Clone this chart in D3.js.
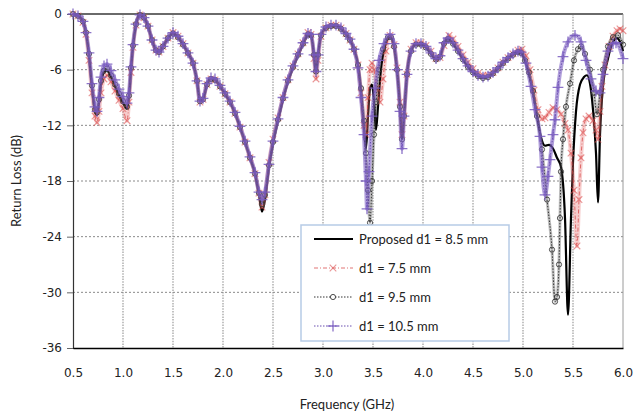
<!DOCTYPE html>
<html><head><meta charset="utf-8">
<script src="https://cdn.jsdelivr.net/npm/d3@7"></script>
<style>
html,body{margin:0;padding:0;background:#fff;}
svg{display:block;}
</style></head>
<body>
<svg id="chart" width="642" height="412"></svg>
<script>
// ---- data (frequency GHz, return loss dB) ----
const xTicks = [0.5,1.0,1.5,2.0,2.5,3.0,3.5,4.0,4.5,5.0,5.5,6.0];
const yTicks = [0,-6,-12,-18,-24,-30,-36];
const seriesNames = ["Proposed d1 = 8.5 mm","d1 = 7.5 mm","d1 = 9.5 mm","d1 = 10.5 mm"];

const proposed = [[0.50,0],[0.55,-0.2],[0.60,-0.8],[0.63,-2],[0.66,-4.5],[0.69,-8],[0.72,-10.5],[0.74,-10.9],[0.76,-9.5],[0.78,-7.5],[0.81,-6.3],[0.84,-6.1],[0.88,-6.8],[0.92,-7.8],[0.96,-8.8],[1.00,-9.6],[1.04,-10.2],[1.06,-9],[1.08,-6],[1.10,-3.5],[1.13,-1.2],[1.17,-0.1],[1.21,-0.4],[1.25,-1.3],[1.29,-2.8],[1.33,-3.9],[1.36,-4.1],[1.40,-3.5],[1.45,-2.6],[1.50,-2.1],[1.55,-2.5],[1.60,-3.3],[1.65,-4.2],[1.70,-5.3],[1.74,-7.2],[1.77,-9.4],[1.80,-9.2],[1.84,-7.6],[1.88,-7],[1.92,-7.1],[1.97,-7.8],[2.02,-8.6],[2.07,-9.5],[2.12,-10.7],[2.17,-12.2],[2.22,-13.8],[2.27,-15.5],[2.32,-17.2],[2.36,-19.5],[2.39,-21.3],[2.42,-20],[2.46,-16.5],[2.50,-14],[2.55,-11.5],[2.60,-9.2],[2.65,-7.3],[2.70,-5.8],[2.75,-4.5],[2.80,-3.3],[2.85,-2.3],[2.88,-2.3],[2.91,-4.5],[2.93,-6.3],[2.95,-4.5],[2.98,-2.3],[3.03,-1.5],[3.08,-1.3],[3.13,-1.3],[3.18,-1.6],[3.23,-2.2],[3.27,-2.8],[3.31,-3.8],[3.35,-5.5],[3.38,-8.5],[3.41,-12.5],[3.43,-14.5],[3.45,-11],[3.47,-8],[3.49,-7.6],[3.51,-9.5],[3.53,-12.5],[3.55,-10],[3.58,-6],[3.62,-3.5],[3.67,-2.5],[3.71,-3.5],[3.74,-6],[3.77,-10],[3.79,-13.5],[3.81,-11],[3.84,-6.5],[3.88,-4],[3.93,-3.3],[3.98,-3.3],[4.03,-3.6],[4.08,-4.3],[4.13,-4.9],[4.17,-4.6],[4.21,-3.2],[4.25,-2.7],[4.30,-3.2],[4.35,-4.0],[4.40,-4.9],[4.45,-5.7],[4.50,-6.3],[4.55,-6.7],[4.60,-6.9],[4.65,-6.8],[4.70,-6.4],[4.75,-5.9],[4.80,-5.3],[4.85,-4.8],[4.90,-4.4],[4.95,-4.1],[4.98,-4.2],[5.02,-5],[5.06,-6.5],[5.10,-8.5],[5.14,-11],[5.18,-13.3],[5.22,-14.2],[5.26,-14.1],[5.30,-14.5],[5.34,-15.5],[5.38,-16.5],[5.42,-22],[5.45,-32.4],[5.48,-22],[5.50,-16],[5.53,-10.5],[5.57,-7.6],[5.61,-6.8],[5.64,-6.6],[5.67,-7.5],[5.70,-10.3],[5.73,-15],[5.75,-20.3],[5.77,-13],[5.80,-7.8],[5.85,-4.8],[5.90,-3],[5.94,-2.6],[5.97,-3],[6.00,-4]];

const d75 = [[0.50,0],[0.55,-0.2],[0.60,-0.9],[0.63,-2.2],[0.66,-5],[0.69,-8.5],[0.72,-11],[0.74,-11.7],[0.76,-10.5],[0.78,-8.5],[0.81,-7],[0.84,-6.6],[0.88,-7.3],[0.92,-8.3],[0.96,-9.3],[1.00,-10.2],[1.04,-11.5],[1.06,-9.5],[1.08,-6.3],[1.10,-3.6],[1.13,-1.2],[1.17,-0.1],[1.21,-0.4],[1.25,-1.3],[1.29,-2.8],[1.33,-3.9],[1.36,-4.1],[1.40,-3.5],[1.45,-2.6],[1.50,-2.0],[1.55,-2.4],[1.60,-3.2],[1.65,-4.2],[1.70,-5.3],[1.74,-7.2],[1.77,-9.5],[1.80,-9.2],[1.84,-7.6],[1.88,-7],[1.92,-7.1],[1.97,-7.8],[2.02,-8.6],[2.07,-9.5],[2.12,-10.7],[2.17,-12.2],[2.22,-13.8],[2.27,-15.5],[2.32,-17.2],[2.36,-19.3],[2.39,-20.8],[2.42,-19.5],[2.46,-16],[2.50,-13.5],[2.55,-11.2],[2.60,-9],[2.65,-7.1],[2.70,-5.6],[2.75,-4.3],[2.80,-3.1],[2.85,-2.0],[2.88,-2.2],[2.91,-4.8],[2.93,-7],[2.95,-5],[2.98,-2.4],[3.03,-1.5],[3.08,-1.2],[3.13,-1.2],[3.18,-1.5],[3.23,-2.1],[3.27,-2.8],[3.31,-3.8],[3.35,-5.5],[3.38,-8.5],[3.41,-12],[3.43,-13],[3.45,-9],[3.47,-6],[3.49,-5.3],[3.51,-6],[3.54,-8],[3.57,-9.5],[3.60,-7],[3.63,-4],[3.67,-2.3],[3.71,-3.3],[3.74,-5.8],[3.77,-9.5],[3.79,-13],[3.81,-11],[3.84,-6.5],[3.88,-3.8],[3.93,-3.1],[3.98,-3.1],[4.03,-3.4],[4.08,-4.0],[4.13,-4.8],[4.17,-4.7],[4.21,-3.4],[4.26,-2.3],[4.30,-2.7],[4.35,-3.5],[4.40,-4.4],[4.45,-5.2],[4.50,-5.9],[4.55,-6.4],[4.60,-6.6],[4.65,-6.6],[4.70,-6.3],[4.75,-5.8],[4.80,-5.2],[4.85,-4.7],[4.90,-4.3],[4.95,-3.9],[4.99,-3.8],[5.03,-4.5],[5.07,-6],[5.11,-8.2],[5.15,-10.3],[5.19,-11.3],[5.22,-11.2],[5.26,-10.6],[5.30,-10.1],[5.34,-10.3],[5.38,-10.8],[5.42,-11.8],[5.45,-12.5],[5.48,-15],[5.51,-19],[5.54,-25],[5.56,-20],[5.58,-15.5],[5.60,-12.8],[5.63,-11.3],[5.66,-11],[5.70,-11.5],[5.73,-12.5],[5.75,-13.5],[5.77,-10.5],[5.79,-7.8],[5.82,-5.5],[5.86,-3.5],[5.90,-2.4],[5.94,-1.8],[5.97,-1.6],[6.00,-1.8]];

const d95 = [[0.50,0],[0.55,-0.2],[0.60,-0.8],[0.63,-2],[0.66,-4.3],[0.69,-7.7],[0.72,-10.3],[0.74,-10.6],[0.76,-9.2],[0.78,-7.2],[0.81,-6.1],[0.84,-5.9],[0.88,-6.6],[0.92,-7.6],[0.96,-8.6],[1.00,-9.4],[1.04,-10],[1.06,-8.8],[1.08,-5.8],[1.10,-3.4],[1.13,-1.1],[1.17,-0.1],[1.21,-0.4],[1.25,-1.3],[1.29,-2.8],[1.33,-3.9],[1.36,-4.1],[1.40,-3.5],[1.45,-2.6],[1.50,-2.1],[1.55,-2.5],[1.60,-3.3],[1.65,-4.2],[1.70,-5.3],[1.74,-7.2],[1.77,-9.4],[1.80,-9.2],[1.84,-7.6],[1.88,-7],[1.92,-7.1],[1.97,-7.8],[2.02,-8.6],[2.07,-9.5],[2.12,-10.7],[2.17,-12.2],[2.22,-13.8],[2.27,-15.5],[2.32,-17.2],[2.36,-19.3],[2.39,-20.5],[2.42,-19.5],[2.46,-16.3],[2.50,-13.8],[2.55,-11.4],[2.60,-9.1],[2.65,-7.2],[2.70,-5.7],[2.75,-4.4],[2.80,-3.2],[2.85,-2.2],[2.88,-2.3],[2.91,-4.4],[2.93,-6.2],[2.95,-4.4],[2.98,-2.3],[3.03,-1.5],[3.08,-1.3],[3.13,-1.3],[3.18,-1.6],[3.23,-2.2],[3.27,-2.8],[3.31,-3.8],[3.35,-5.5],[3.38,-8],[3.41,-11.5],[3.43,-15],[3.45,-19],[3.47,-22.5],[3.49,-18],[3.51,-13],[3.53,-9.5],[3.56,-6],[3.60,-3.8],[3.65,-2.5],[3.68,-2.5],[3.71,-3.5],[3.74,-6],[3.77,-10],[3.79,-13.5],[3.81,-11],[3.84,-6.5],[3.88,-4],[3.93,-3.3],[3.98,-3.3],[4.03,-3.6],[4.08,-4.3],[4.13,-4.9],[4.17,-4.6],[4.21,-3.2],[4.25,-2.7],[4.30,-3.2],[4.35,-4.0],[4.40,-4.9],[4.45,-5.7],[4.50,-6.3],[4.55,-6.7],[4.60,-6.9],[4.65,-6.8],[4.70,-6.4],[4.75,-5.9],[4.80,-5.3],[4.85,-4.8],[4.90,-4.4],[4.95,-4.1],[4.98,-4.2],[5.02,-5],[5.06,-6.3],[5.10,-8.3],[5.14,-11],[5.19,-14.6],[5.24,-20],[5.29,-25.4],[5.32,-31],[5.34,-30.5],[5.36,-27],[5.37,-22],[5.38,-17],[5.40,-13.5],[5.43,-10],[5.47,-7.5],[5.51,-5],[5.55,-3.8],[5.58,-3.5],[5.62,-4.3],[5.67,-6],[5.71,-8.5],[5.74,-10.8],[5.77,-8.5],[5.80,-6],[5.85,-3.5],[5.90,-2.5],[5.95,-2.3],[6.00,-3.3]];

const d105 = [[0.50,0],[0.55,-0.2],[0.60,-0.8],[0.63,-2],[0.66,-4.2],[0.69,-7.5],[0.72,-10],[0.74,-10.5],[0.76,-9],[0.78,-6.8],[0.81,-5.6],[0.84,-5.4],[0.88,-6.1],[0.92,-7.1],[0.96,-8.1],[1.00,-8.9],[1.04,-9.6],[1.06,-8.5],[1.08,-5.7],[1.10,-3.3],[1.13,-1.1],[1.17,-0.1],[1.21,-0.4],[1.25,-1.3],[1.29,-2.8],[1.33,-3.9],[1.36,-4.1],[1.40,-3.5],[1.45,-2.6],[1.50,-2.0],[1.55,-2.4],[1.60,-3.2],[1.65,-4.2],[1.70,-5.3],[1.74,-7.2],[1.77,-9.4],[1.80,-9.1],[1.84,-7.5],[1.88,-6.9],[1.92,-7.0],[1.97,-7.7],[2.02,-8.5],[2.07,-9.4],[2.12,-10.6],[2.17,-12.1],[2.22,-13.7],[2.27,-15.4],[2.32,-17.1],[2.36,-19.2],[2.39,-20],[2.42,-19.2],[2.46,-16.2],[2.50,-13.7],[2.55,-11.3],[2.60,-9.0],[2.65,-7.1],[2.70,-5.6],[2.75,-4.3],[2.80,-3.1],[2.85,-2.1],[2.88,-2.2],[2.91,-4.4],[2.93,-6.2],[2.95,-4.4],[2.98,-2.2],[3.03,-1.4],[3.08,-1.2],[3.13,-1.2],[3.18,-1.5],[3.23,-2.1],[3.27,-2.7],[3.31,-3.8],[3.35,-5.8],[3.38,-9],[3.41,-13],[3.43,-18],[3.44,-21],[3.46,-17],[3.49,-11],[3.52,-8],[3.56,-5],[3.61,-3.2],[3.67,-2.2],[3.71,-3.2],[3.74,-6],[3.77,-10.5],[3.79,-14.5],[3.81,-11],[3.84,-6.5],[3.88,-4],[3.93,-3.2],[3.98,-3.2],[4.03,-3.5],[4.08,-4.2],[4.13,-4.8],[4.17,-4.5],[4.21,-3.1],[4.25,-2.6],[4.30,-3.1],[4.35,-3.9],[4.40,-4.8],[4.45,-5.6],[4.50,-6.2],[4.55,-6.6],[4.60,-6.8],[4.65,-6.7],[4.70,-6.3],[4.75,-5.8],[4.80,-5.2],[4.85,-4.7],[4.90,-4.3],[4.95,-4.0],[4.98,-4.1],[5.03,-5.3],[5.08,-7.8],[5.12,-10.3],[5.17,-13.2],[5.19,-16.5],[5.22,-19.5],[5.25,-17.5],[5.27,-15.7],[5.30,-13],[5.32,-11.4],[5.35,-7.9],[5.40,-4.6],[5.45,-3],[5.52,-2.3],[5.58,-3],[5.63,-5],[5.68,-7],[5.73,-8.3],[5.77,-8.5],[5.80,-6.5],[5.85,-4],[5.90,-3.2],[5.93,-3.1],[6.00,-4.8]];

// ---- layout ----
const svg = d3.select("#chart");
const x = d3.scaleLinear().domain([0.5, 6.0]).range([73, 623]);
const y = d3.scaleLinear().domain([-36, 0]).range([348, 14]);

// gridlines
const grid = svg.append("g");
grid.selectAll("line.vg").data(xTicks.filter(t => t > 0.5 && t < 6.0)).join("line")
  .attr("x1", d => x(d)).attr("x2", d => x(d)).attr("y1", y(0)).attr("y2", y(-36))
  .attr("stroke", "#b4b4b4").attr("stroke-width", 1.6).attr("stroke-dasharray", "1.5,1.2");
grid.selectAll("line.hg").data(yTicks.filter(t => t < 0 && t > -36)).join("line")
  .attr("x1", x(0.5)).attr("x2", x(6.0)).attr("y1", d => y(d)).attr("y2", d => y(d))
  .attr("stroke", "#8a8a8a").attr("stroke-width", 1).attr("stroke-dasharray", "2,2");

// frame top & right
svg.append("line").attr("x1", x(0.5)).attr("x2", x(6.0)).attr("y1", y(0)).attr("y2", y(0))
  .attr("stroke", "#6a6a6a").attr("stroke-width", 2);
svg.append("line").attr("x1", x(6.0)).attr("x2", x(6.0)).attr("y1", y(0)).attr("y2", y(-36))
  .attr("stroke", "#9a9a9a").attr("stroke-width", 1);

// axes
const yAxis = svg.append("g").attr("transform", `translate(${x(0.5)},0)`)
  .call(d3.axisLeft(y).tickValues(yTicks).tickSize(6).tickPadding(5).tickFormat(d => String(d)));
yAxis.select(".domain").attr("stroke", "#333").attr("stroke-width", 1.2);
yAxis.selectAll(".tick line").attr("stroke", "#666");
yAxis.selectAll("text").attr("font-family", "DejaVu Sans, sans-serif").attr("font-size", 12).attr("fill", "#222");

const xAxis = svg.append("g").attr("transform", `translate(0,${y(-36)})`)
  .call(d3.axisBottom(x).tickValues(xTicks).tickSize(0).tickPadding(20).tickFormat(d => d.toFixed(1)));
xAxis.select(".domain").attr("stroke", "#000").attr("stroke-width", 1.6);
xAxis.selectAll("text").attr("font-family", "DejaVu Sans, sans-serif").attr("font-size", 12).attr("fill", "#222");

// axis titles
svg.append("text").attr("x", 347).attr("y", 409).attr("text-anchor", "middle")
  .attr("font-family", "Lato, sans-serif").attr("font-size", 13).attr("fill", "#222")
  .text("Frequency (GHz)");
svg.append("text").attr("transform", `translate(21,${(y(0)+y(-36))/2}) rotate(-90)`)
  .attr("text-anchor", "middle")
  .attr("font-family", "Lato, sans-serif").attr("font-size", 13).attr("fill", "#222")
  .text("Return Loss (dB)");

// series
const line = d3.line().x(d => x(d[0])).y(d => y(d[1])).curve(d3.curveMonotoneX);
const plot = svg.append("g");

const styles = [
  {data: proposed, stroke: "#000", width: 2.2, dash: null, marker: null},
  {data: d75, stroke: "rgba(215,70,70,0.75)", width: 1, dash: "4,2,1,2", marker: "x", mcol: "rgba(220,80,80,0.6)", band: "rgba(230,110,110,0.35)", bw: 4},
  {data: d95, stroke: "#333", width: 1, dash: "1.5,1.5", marker: "o", mcol: "#3a3a3a", band: "rgba(70,70,70,0.35)", bw: 3},
  {data: d105, stroke: "#6a4fb0", width: 1, dash: "1.5,1.5", marker: "+", mcol: "rgba(120,90,190,0.85)", band: "rgba(125,95,195,0.6)", bw: 4}
];

styles.forEach(s => {
  if (s.band) {
    plot.append("path").datum(s.data).attr("d", line)
      .attr("fill", "none").attr("stroke", s.band).attr("stroke-width", s.bw)
      .attr("stroke-linejoin", "round");
  }
  plot.append("path").datum(s.data).attr("d", line)
    .attr("fill", "none").attr("stroke", s.stroke).attr("stroke-width", s.width)
    .attr("stroke-dasharray", s.dash);
  if (s.marker === "x") {
    plot.append("g").selectAll("path").data(s.data).join("path")
      .attr("transform", d => `translate(${x(d[0])},${y(d[1])})`)
      .attr("d", d3.symbol(d3.symbolX, 30)())
      .attr("fill", "none").attr("stroke", s.mcol).attr("stroke-width", 1.1);
  } else if (s.marker === "o") {
    plot.append("g").selectAll("circle").data(s.data).join("circle")
      .attr("cx", d => x(d[0])).attr("cy", d => y(d[1])).attr("r", 2.6)
      .attr("fill", "none").attr("stroke", s.mcol).attr("stroke-width", 0.9);
  } else if (s.marker === "+") {
    plot.append("g").selectAll("path").data(s.data).join("path")
      .attr("transform", d => `translate(${x(d[0])},${y(d[1])})`)
      .attr("d", d3.symbol(d3.symbolPlus, 40)())
      .attr("fill", "none").attr("stroke", s.mcol).attr("stroke-width", 1.3);
  }
});

// legend
const lg = svg.append("g");
lg.append("rect").attr("x", 301).attr("y", 225).attr("width", 208).attr("height", 116)
  .attr("fill", "#fff").attr("stroke", "#b7cbe6").attr("stroke-width", 1.5);
const ly = [239, 268, 297, 326];
styles.forEach((s, i) => {
  const g = lg.append("g");
  g.append("line").attr("x1", 314).attr("x2", 353).attr("y1", ly[i]).attr("y2", ly[i])
    .attr("stroke", s.stroke).attr("stroke-width", s.width).attr("stroke-dasharray", s.dash);
  if (s.marker === "x") {
    g.append("path").attr("transform", `translate(333,${ly[i]})`).attr("d", d3.symbol(d3.symbolX, 30)())
      .attr("fill", "none").attr("stroke", s.mcol).attr("stroke-width", 1.1);
  } else if (s.marker === "o") {
    g.append("circle").attr("cx", 333).attr("cy", ly[i]).attr("r", 2.6)
      .attr("fill", "#fff").attr("stroke", s.mcol).attr("stroke-width", 0.9);
  } else if (s.marker === "+") {
    g.append("path").attr("transform", `translate(333,${ly[i]})`).attr("d", d3.symbol(d3.symbolPlus, 40)())
      .attr("fill", "none").attr("stroke", s.mcol).attr("stroke-width", 1.3);
  }
  g.append("text").attr("x", 359).attr("y", ly[i]).attr("dy", "0.35em")
    .attr("font-family", "Lato, sans-serif").attr("font-size", 13).attr("fill", "#222")
    .text(seriesNames[i]);
});
</script>
</body></html>
